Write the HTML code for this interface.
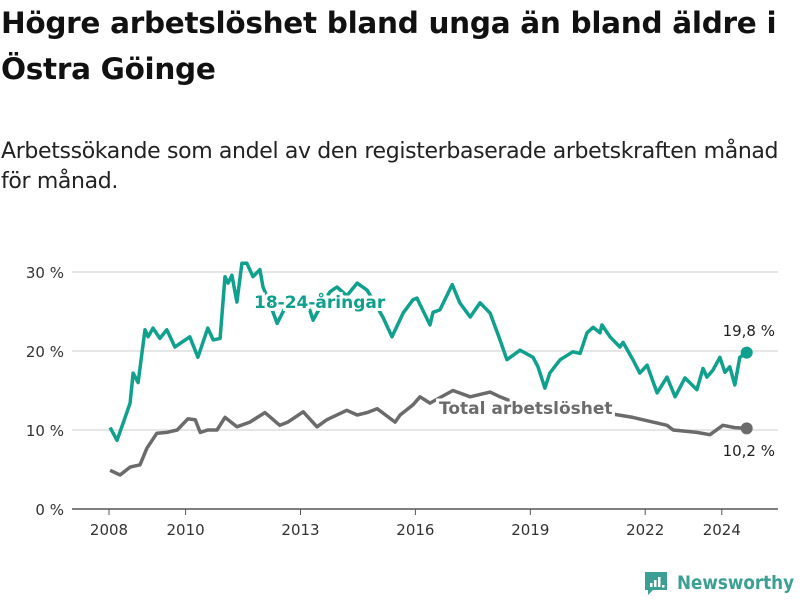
<!DOCTYPE html>
<html><head><meta charset="utf-8"><style>
body{margin:0;background:#fff;width:800px;height:600px;overflow:hidden;font-family:"DejaVu Sans","Liberation Sans",sans-serif;color:#111}
h1{position:absolute;left:1px;top:0px;margin:0;font-size:29.5px;line-height:46px;font-weight:bold;width:800px;white-space:nowrap;letter-spacing:-0.3px}
p{position:absolute;left:1px;top:137px;margin:0;font-size:22px;line-height:30px;width:800px;color:#222;white-space:nowrap;letter-spacing:-0.35px}
svg{position:absolute;left:0;top:0;font-family:"DejaVu Sans","Liberation Sans",sans-serif}
</style></head><body>
<h1>Högre arbetslöshet bland unga än bland äldre i<br>Östra Göinge</h1>
<p>Arbetssökande som andel av den registerbaserade arbetskraften månad<br>för månad.</p>
<svg id="chart" width="800" height="600"></svg>
<script>
const youngDates=[2008.03,2008.21,2008.37,2008.55,2008.63,2008.76,2008.94,2009.02,2009.15,2009.33,2009.51,2009.72,2010.11,2010.32,2010.58,2010.72,2010.90,2011.03,2011.11,2011.21,2011.34,2011.47,2011.60,2011.76,2011.94,2012.02,2012.20,2012.39,2012.60,2012.86,2013.12,2013.33,2013.51,2013.77,2013.95,2014.21,2014.48,2014.74,2014.95,2015.15,2015.39,2015.68,2015.94,2016.04,2016.38,2016.46,2016.64,2016.96,2017.16,2017.43,2017.69,2017.95,2018.21,2018.39,2018.73,2019.07,2019.20,2019.38,2019.51,2019.78,2020.11,2020.30,2020.48,2020.64,2020.82,2020.87,2021.08,2021.34,2021.42,2021.68,2021.86,2022.05,2022.31,2022.57,2022.78,2023.04,2023.35,2023.51,2023.61,2023.77,2023.95,2024.08,2024.21,2024.34,2024.47,2024.65];
const youngValues=[10.3,8.7,10.9,13.4,17.2,16.0,22.7,21.8,22.9,21.6,22.7,20.5,21.8,19.2,22.9,21.4,21.6,29.4,28.6,29.6,26.2,31.1,31.1,29.4,30.3,28.1,26.0,23.5,25.5,26.5,27.0,23.9,25.5,27.5,28.1,27.0,28.6,27.7,26.0,24.3,21.8,24.8,26.5,26.7,23.3,24.9,25.2,28.4,26.1,24.3,26.1,24.8,21.4,18.9,20.1,19.2,18.0,15.3,17.2,18.9,19.9,19.7,22.3,23.0,22.3,23.3,21.8,20.5,21.1,18.9,17.2,18.2,14.7,16.7,14.2,16.6,15.1,17.8,16.7,17.6,19.2,17.3,18.0,15.7,19.2,19.8];
const totalDates=[2008.03,2008.29,2008.55,2008.81,2008.99,2009.25,2009.51,2009.78,2010.06,2010.25,2010.38,2010.58,2010.82,2011.03,2011.34,2011.68,2012.07,2012.46,2012.67,2013.07,2013.43,2013.69,2014.21,2014.48,2014.74,2015.00,2015.47,2015.60,2015.94,2016.12,2016.38,2016.98,2017.43,2017.95,2018.21,2018.73,2019.51,2020.56,2021.68,2022.20,2022.57,2022.73,2023.35,2023.69,2024.03,2024.34,2024.65];
const totalValues=[4.9,4.3,5.3,5.6,7.7,9.6,9.7,10.0,11.4,11.3,9.7,10.0,10.0,11.6,10.4,11.0,12.2,10.6,11.0,12.3,10.4,11.3,12.5,11.9,12.2,12.7,11.0,11.9,13.2,14.2,13.4,15.0,14.2,14.8,14.2,13.2,12.8,12.5,11.6,11.0,10.6,10.0,9.7,9.4,10.6,10.3,10.2];
const yTicks=[0,10,20,30];
const xTicks=[2008,2010,2013,2016,2019,2022,2024];

const svg=document.getElementById('chart');const NS='http://www.w3.org/2000/svg';
const X=d=>109+(d-2008)*38.3;const Y=v=>509-v*7.9;
function mk(t,a,p){const e=document.createElementNS(NS,t);for(const k in a)e.setAttribute(k,a[k]);(p||svg).appendChild(e);return e;}
yTicks.forEach(v=>{
 const l=mk('line',{x1:72,x2:778,y1:Y(v),y2:Y(v),stroke:v===0?'#555':'#ddd','stroke-width':1.5});
 
 
 const t=mk('text',{x:64,y:Y(v)+6,'text-anchor':'end','font-size':15,fill:'#333'});t.textContent=v+' %';
 
 
});
xTicks.forEach(d=>{
 const l=mk('line',{x1:X(d),x2:X(d),y1:509,y2:515,stroke:'#555','stroke-width':1});
 
 
 const t=mk('text',{x:X(d),y:535,'text-anchor':'middle','font-size':15,fill:'#333'});t.textContent=d;
 
 
});
function line(ds,vs,col,name){
 const p=mk('path',{d:ds.map((d,i)=>(i?'L':'M')+X(d).toFixed(1)+','+Y(vs[i]).toFixed(1)).join(''),fill:'none',stroke:col,'stroke-width':3.5,'stroke-linejoin':'round'});
 
 
 const n=ds.length-1;
 const c=mk('circle',{cx:X(ds[n]),cy:Y(vs[n]),r:6,fill:col});
 
 
}
line(totalDates,totalValues,'#6b6b6b','total');
line(youngDates,youngValues,'#0fa08e','young');
function lab(x,y,txt,col,name,size,bold,anchor){
 const t=mk('text',{x:x,y:y,'font-size':size,'font-weight':bold?'bold':'normal',fill:col,stroke:'#fff','stroke-width':bold?6:0,'paint-order':'stroke','text-anchor':anchor||'start'});t.textContent=txt;
 
 
}
lab(254,308,'18-24-åringar','#0fa08e','young-series-label',17,true);
lab(439,414,'Total arbetslöshet','#6b6b6b','total-series-label',17,true);
lab(775,336,'19,8 %','#222','young-end-value',15,false,'end');
lab(775,456,'10,2 %','#222','total-end-value',15,false,'end');
const g=mk('g',{});


mk('path',{d:'M645,572 h22 v18 h-14 l-5,5 v-5 h-3 z',fill:'#3c9f94'},g);
mk('rect',{x:650,y:583,width:2.5,height:4,fill:'#fff'},g);
mk('rect',{x:654,y:580,width:2.5,height:7,fill:'#fff'},g);
mk('rect',{x:658,y:577,width:2.5,height:10,fill:'#fff'},g);
mk('rect',{x:662,y:585,width:2.5,height:2.5,fill:'#fff'},g);
const lt=mk('text',{x:677,y:589,'font-size':19,'font-weight':'bold',fill:'#3c9f94',textLength:117,lengthAdjust:'spacingAndGlyphs'},g);lt.textContent='Newsworthy';
</script>
</body></html>
